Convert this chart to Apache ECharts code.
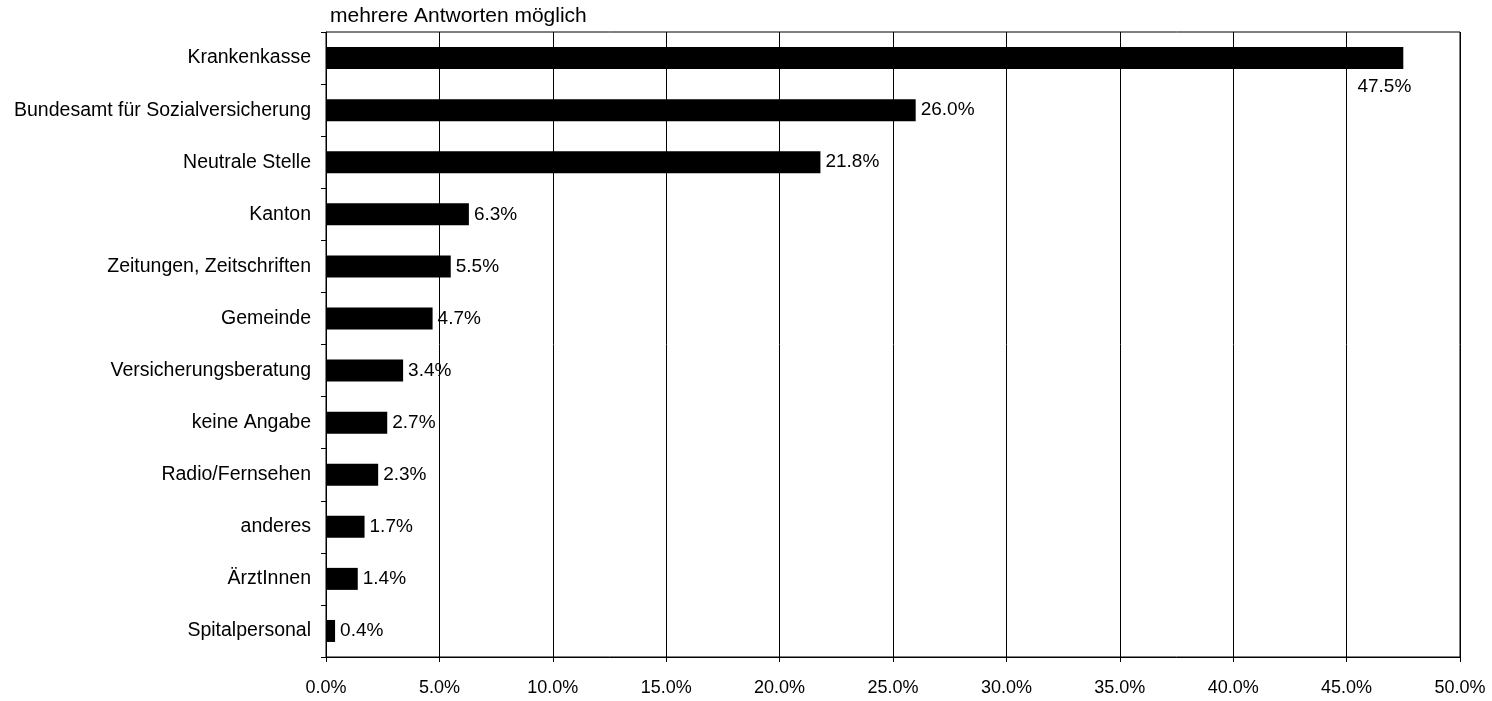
<!DOCTYPE html>
<html>
<head>
<meta charset="utf-8">
<style>
  html, body { margin: 0; padding: 0; background: #fff; }
  #chart { width: 1492px; height: 701px; }
</style>
<script src="https://cdn.jsdelivr.net/npm/echarts@6/dist/echarts.min.js"></script>
</head>
<body>
<div id="chart"></div>
<script>
// Informationsquellen (mehrere Antworten möglich), Anteil in Prozent
const categories = [
  'Krankenkasse',
  'Bundesamt für Sozialversicherung',
  'Neutrale Stelle',
  'Kanton',
  'Zeitungen, Zeitschriften',
  'Gemeinde',
  'Versicherungsberatung',
  'keine Angabe',
  'Radio/Fernsehen',
  'anderes',
  'ÄrztInnen',
  'Spitalpersonal'
];
const shares = [47.5, 26.0, 21.8, 6.3, 5.5, 4.7, 3.4, 2.7, 2.3, 1.7, 1.4, 0.4];
const axisMax = 50;
const axisStep = 5;
const subtitle = 'mehrere Antworten möglich';

const FONT = 'Liberation Sans, Arial, sans-serif';
const chart = echarts.init(document.getElementById('chart'));

const seriesData = shares.map((v, i) => {
  if (i === 0) {
    // longest bar: value sits below the bar end
    return {
      value: v,
      label: {
        position: ['100%', '100%'],
        align: 'right',
        verticalAlign: 'top',
        offset: [8, 8]
      }
    };
  }
  return v;
});

chart.setOption({
  animation: false,
  title: {
    text: subtitle,
    left: 325,
    top: 1,
    textStyle: { fontFamily: FONT, fontSize: 21, fontWeight: 'normal', color: '#000' }
  },
  grid: {
    left: 326, right: 32, top: 32, bottom: 44,
    show: true, borderColor: '#000', borderWidth: 1
  },
  xAxis: {
    type: 'value',
    min: 0, max: axisMax, interval: axisStep,
    axisLine: { show: true, lineStyle: { color: '#000', width: 1 } },
    axisTick: { show: true, length: 5, lineStyle: { color: '#000' } },
    splitLine: { show: true, lineStyle: { color: '#000', width: 1 } },
    axisLabel: {
      margin: 22,
      color: '#000', fontFamily: FONT, fontSize: 18,
      formatter: v => v.toFixed(1) + '%'
    }
  },
  yAxis: {
    type: 'category',
    data: categories,
    inverse: true,
    axisLine: { show: true, lineStyle: { color: '#000', width: 1 } },
    axisTick: { show: true, length: 5, lineStyle: { color: '#000' } },
    axisLabel: { margin: 15, color: '#000', fontFamily: FONT, fontSize: 19.5 }
  },
  series: [{
    type: 'bar',
    data: seriesData,
    barWidth: 22,
    itemStyle: { color: '#000' },
    label: {
      show: true,
      position: 'right',
      distance: 5,
      color: '#000',
      fontFamily: FONT,
      fontSize: 19,
      formatter: p => p.value.toFixed(1) + '%'
    }
  }]
});
</script>
</body>
</html>
